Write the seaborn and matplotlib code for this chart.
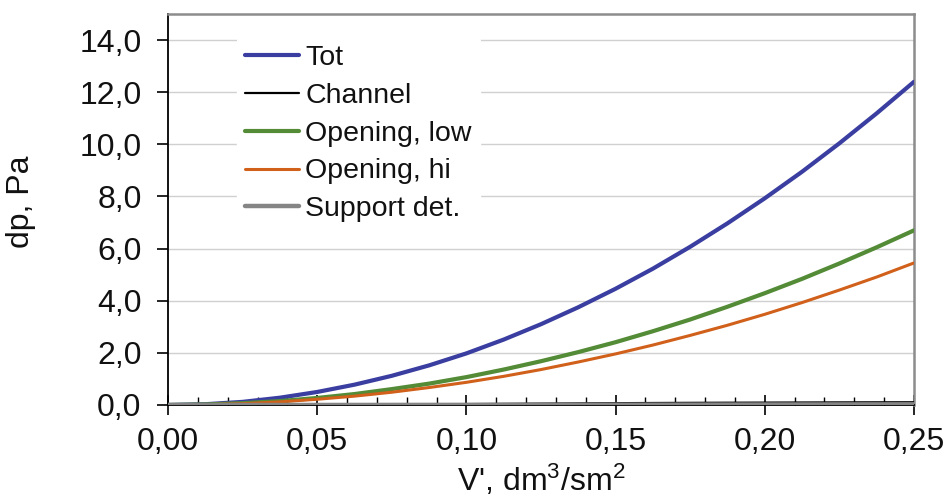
import numpy as np
import pandas as pd
import matplotlib
matplotlib.use("Agg")
import matplotlib.pyplot as plt
import seaborn as sns
from matplotlib.ticker import FuncFormatter, MultipleLocator

# ---- data ----
x_vals = [0.0, 0.0125, 0.025, 0.0375, 0.05, 0.0625, 0.075, 0.0875, 0.1, 0.1125,
          0.125, 0.1375, 0.15, 0.1625, 0.175, 0.1875, 0.2, 0.2125, 0.225, 0.2375, 0.25]
tot = [0.0, 0.03, 0.12, 0.28, 0.50, 0.78, 1.12, 1.52, 1.98, 2.51,
       3.10, 3.75, 4.46, 5.23, 6.07, 6.97, 7.93, 8.95, 10.04, 11.19, 12.40]
channel = [0.0, 0.0, 0.002, 0.005, 0.009, 0.014, 0.02, 0.027, 0.035, 0.044,
           0.053, 0.062, 0.07, 0.077, 0.083, 0.088, 0.092, 0.096, 0.10, 0.103, 0.105]
open_low = [0.0, 0.02, 0.07, 0.15, 0.27, 0.42, 0.61, 0.82, 1.07, 1.36,
            1.68, 2.03, 2.41, 2.83, 3.28, 3.77, 4.29, 4.84, 5.43, 6.05, 6.70]
open_hi = [0.0, 0.01, 0.05, 0.12, 0.22, 0.34, 0.49, 0.67, 0.87, 1.10,
           1.36, 1.65, 1.96, 2.30, 2.67, 3.06, 3.48, 3.93, 4.41, 4.91, 5.45]
support = [0.0, 0.0, 0.0, 0.001, 0.001, 0.002, 0.003, 0.004, 0.005, 0.006,
           0.008, 0.009, 0.011, 0.012, 0.014, 0.016, 0.018, 0.02, 0.022, 0.024, 0.026]

series_names = ["Tot", "Channel", "Opening, low", "Opening, hi", "Support det."]
series_vals = [tot, channel, open_low, open_hi, support]
y_ticks = [0, 2, 4, 6, 8, 10, 12, 14]

colors = {"Tot": "#3A3EA0", "Channel": "#000000", "Opening, low": "#538B36",
          "Opening, hi": "#D0601A", "Support det.": "#858585"}
widths = {"Tot": 3.0, "Channel": 1.6, "Opening, low": 3.0, "Opening, hi": 2.2,
          "Support det.": 3.2}

sns.set_theme(style="white")
plt.rcParams['font.family'] = ['Liberation Sans', 'DejaVu Sans']
plt.rcParams['text.color'] = '#111111'
plt.rcParams['axes.labelcolor'] = '#111111'
plt.rcParams['xtick.color'] = '#111111'
plt.rcParams['ytick.color'] = '#111111'
plt.rcParams['mathtext.fontset'] = 'custom'
plt.rcParams['mathtext.rm'] = 'Liberation Sans'

fig = plt.figure(figsize=(9.48, 5.04), dpi=100)
ax = fig.add_axes([168/948, 1 - 405/504, (914-168)/948, (405-14)/504])

for name, vals in zip(series_names, series_vals):
    df = pd.DataFrame({"x": x_vals, "y": vals})
    sns.lineplot(data=df, x="x", y="y", ax=ax, color=colors[name],
                 linewidth=widths[name], label=name, zorder=3)

ax.set_xlim(0, 0.25)
ax.set_ylim(0, 15)
ax.set_yticks(y_ticks)
ax.xaxis.set_major_locator(MultipleLocator(0.05))
ax.xaxis.set_minor_locator(MultipleLocator(0.01))
ax.xaxis.set_major_formatter(FuncFormatter(lambda v, p: f"{v:.2f}".replace(".", ",")))
ax.yaxis.set_major_formatter(FuncFormatter(lambda v, p: f"{v:.1f}".replace(".", ",")))

ax.grid(axis="y", color="#D0D0D0", linewidth=1.0, zorder=0)
ax.set_axisbelow(True)

for s in ["top", "right"]:
    ax.spines[s].set_color("#8C8C8C")
    ax.spines[s].set_linewidth(1.8)
ax.spines["left"].set_color("#000000")
ax.spines["left"].set_linewidth(1.3)
ax.spines["bottom"].set_color("#000000")
ax.spines["bottom"].set_linewidth(1.3)

ax.tick_params(axis="y", which="major", direction="out", length=8, width=1.2,
               color="black", labelsize=23, pad=11, left=True)
ax.tick_params(axis="x", which="major", direction="inout", length=14, width=1.2,
               color="black", labelsize=23, pad=9, bottom=True)
ax.tick_params(axis="x", which="minor", direction="in", length=6, width=1.0,
               color="black", bottom=True)

ax.set_xlabel("V', dm$\\mathregular{^3}$/sm$\\mathregular{^2}$", fontsize=23, labelpad=4)
ax.set_ylabel("dp, Pa", fontsize=23, labelpad=24)
ax.yaxis.set_label_coords(-0.177, 0.52)

leg = ax.legend(loc="upper left", bbox_to_anchor=(0.073, 0.98), frameon=True,
                fontsize=20.5, handlelength=1.9, handletextpad=0.2,
                labelspacing=0.42, borderpad=0.3)
leg.get_frame().set_facecolor("white")
leg.get_frame().set_edgecolor("white")
leg.get_frame().set_alpha(1.0)
leg.set_zorder(5)
for line in leg.get_lines():
    line.set_linewidth(widths[line.get_label()])

fig.savefig("out.png", dpi=100, facecolor="white")
